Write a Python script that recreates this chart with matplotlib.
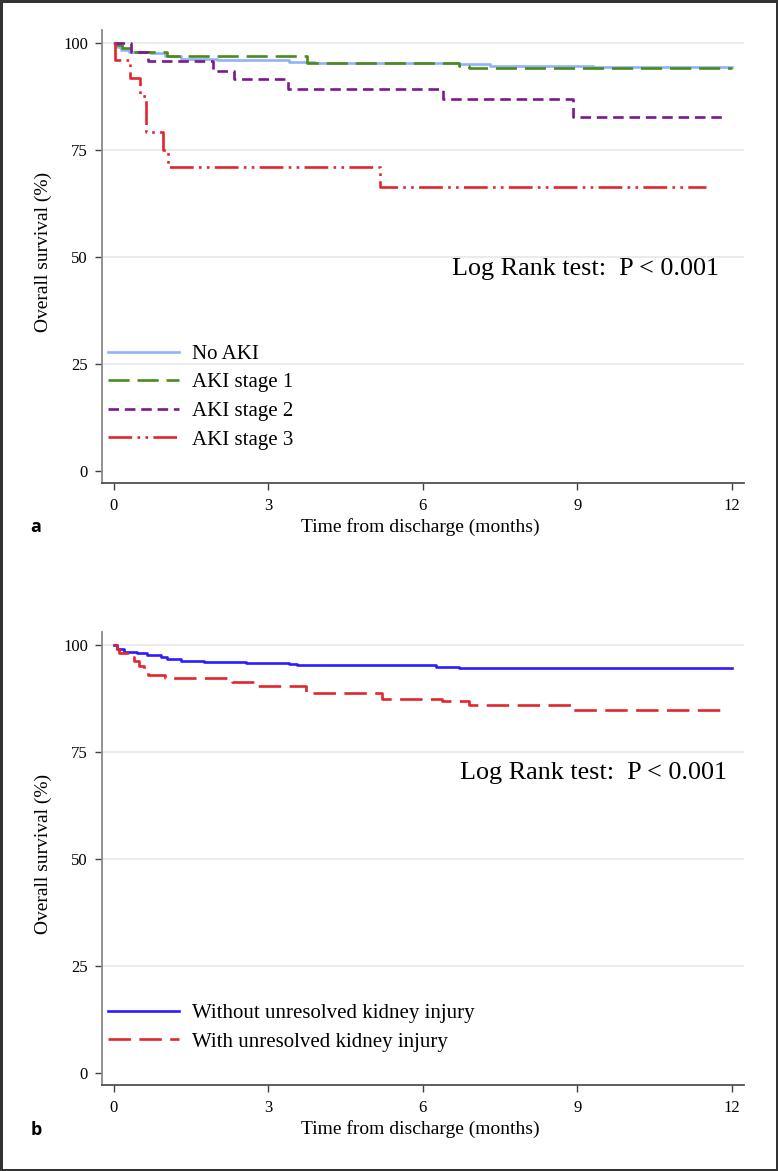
import matplotlib

matplotlib.use("Agg")
from matplotlib import pyplot as plt

# panel a: Kaplan-Meier estimates by AKI stage (months, % surviving)
no_aki_t = [0, 0.06, 0.15, 0.3, 0.5, 0.7, 1.0, 1.3, 2.0, 3.4, 3.9, 6.7, 7.3, 9.3, 12.0]
no_aki_s = [100, 99.0, 98.4, 98.0, 97.8, 97.6, 97.0, 96.3, 96.0, 95.6, 95.2, 95.1, 94.7, 94.3, 94.3]

aki1_t = [0, 0.06, 0.16, 0.37, 1.03, 3.75, 6.7, 6.9, 12.0]
aki1_s = [100, 99.5, 98.8, 98.0, 97.0, 95.4, 94.7, 94.1, 94.1]

aki2_t = [0, 0.34, 0.66, 1.93, 2.33, 3.38, 6.39, 8.91, 11.8]
aki2_s = [100, 97.8, 95.8, 93.5, 91.5, 89.2, 86.8, 82.7, 82.7]

aki3_t = [0, 0.03, 0.32, 0.5, 0.62, 0.95, 1.05, 5.17, 11.5]
aki3_s = [100, 96.0, 91.7, 87.5, 79.3, 75.0, 71.1, 66.3, 66.3]

# panel b: by unresolved kidney injury
without_t = [0, 0.06, 0.19, 0.45, 0.64, 0.91, 1.03, 1.3, 1.75, 2.56, 3.4, 3.55,
             5.8, 6.25, 6.7, 9.3, 12.0]
without_s = [100, 99.0, 98.3, 98.2, 97.7, 97.3, 96.8, 96.3, 96.1, 95.9, 95.6, 95.4,
             95.2, 94.9, 94.7, 94.6, 94.6]

with_t = [0, 0.06, 0.1, 0.31, 0.4, 0.49, 0.58, 0.66, 0.99, 2.3, 2.78, 3.73, 5.2,
          6.37, 6.9, 8.9, 11.9]
with_s = [100, 99.0, 98.1, 97.1, 96.3, 95.1, 93.9, 93.0, 92.2, 91.3, 90.3, 88.7,
          87.4, 86.9, 86.0, 84.9, 84.9]

x_ticks = [0, 3, 6, 9, 12]
y_ticks = [0, 25, 50, 75, 100]
pvalue_text = "Log Rank test:  P < 0.001"

SERIF = "Liberation Serif"
plt.rcParams["font.family"] = [SERIF, "DejaVu Serif"]


def style_axes(ax):
    ax.set_xlim(-0.23, 12.23)
    ax.set_ylim(-2.8, 103.0)
    ax.set_xticks(x_ticks)
    ax.set_yticks(y_ticks)
    for val in y_ticks[1:]:
        ax.axhline(val, color="#e8e8e8", lw=1.2, zorder=0)
    ax.spines["top"].set_visible(False)
    ax.spines["right"].set_visible(False)
    ax.spines["left"].set_color("#8a8a8a")
    ax.spines["bottom"].set_color("#505050")
    ax.spines["left"].set_linewidth(1.3)
    ax.spines["bottom"].set_linewidth(1.3)
    ax.tick_params(axis="both", direction="out", length=5, width=1.0,
                   color="#404040", labelsize=12, pad=5)
    ax.tick_params(axis="x", pad=6)
    ax.set_xlabel("Time from discharge (months)", fontsize=14)
    ax.set_ylabel("Overall survival (%)", fontsize=14)
    ax.xaxis.set_label_coords(0.496, -0.077)
    ax.yaxis.set_label_coords(-0.077, 0.51)


def add_legend(ax):
    ax.legend(loc="lower left", bbox_to_anchor=(0.01, 0.074), frameon=False,
              fontsize=15, handlelength=3.4, handletextpad=0.6,
              labelspacing=0.43, borderpad=0, borderaxespad=0)


fig = plt.figure(figsize=(7.78, 11.71), dpi=100, edgecolor="#333333",
                 linewidth=2.5)

ax_a = fig.add_axes([0.131, 0.5875, 0.825, 0.3868])
ax_b = fig.add_axes([0.131, 0.0734, 0.825, 0.3868])

# panel a
ax_a.step(no_aki_t, no_aki_s, where="post", color="#8fb4f2", lw=1.9,
          label="No AKI")
ax_a.step(aki1_t, aki1_s, where="post", color="#4b8a1c", lw=1.9,
          ls=(0, (8, 3)), label="AKI stage 1")
ax_a.step(aki2_t, aki2_s, where="post", color="#7e178f", lw=1.9,
          ls=(0, (4, 2.2)), label="AKI stage 2")
ax_a.step(aki3_t, aki3_s, where="post", color="#e3262b", lw=1.9,
          ls=(0, (9, 2, 1, 2, 1, 2)), label="AKI stage 3")
style_axes(ax_a)
ax_a.text(6.56, 47.3, pvalue_text, fontsize=18.8, ha="left", va="center")
add_legend(ax_a)

# panel b
ax_b.step(without_t, without_s, where="post", color="#2a1cff", lw=1.9,
          label="Without unresolved kidney injury")
ax_b.step(with_t, with_s, where="post", color="#e3262b", lw=1.9,
          ls=(0, (8.5, 3.2)), label="With unresolved kidney injury")
style_axes(ax_b)
ax_b.text(6.72, 70.0, pvalue_text, fontsize=18.8, ha="left", va="center")
add_legend(ax_b)

# panel letters
fig.text(36 / 778, 1 - 527 / 1171, "a", family="Open Sans", weight="bold",
         fontsize=13, ha="center", va="center")
fig.text(36 / 778, 1 - 1130 / 1171, "b", family="Open Sans", weight="bold",
         fontsize=13, ha="center", va="center")

fig.savefig("out.png", dpi=100)
